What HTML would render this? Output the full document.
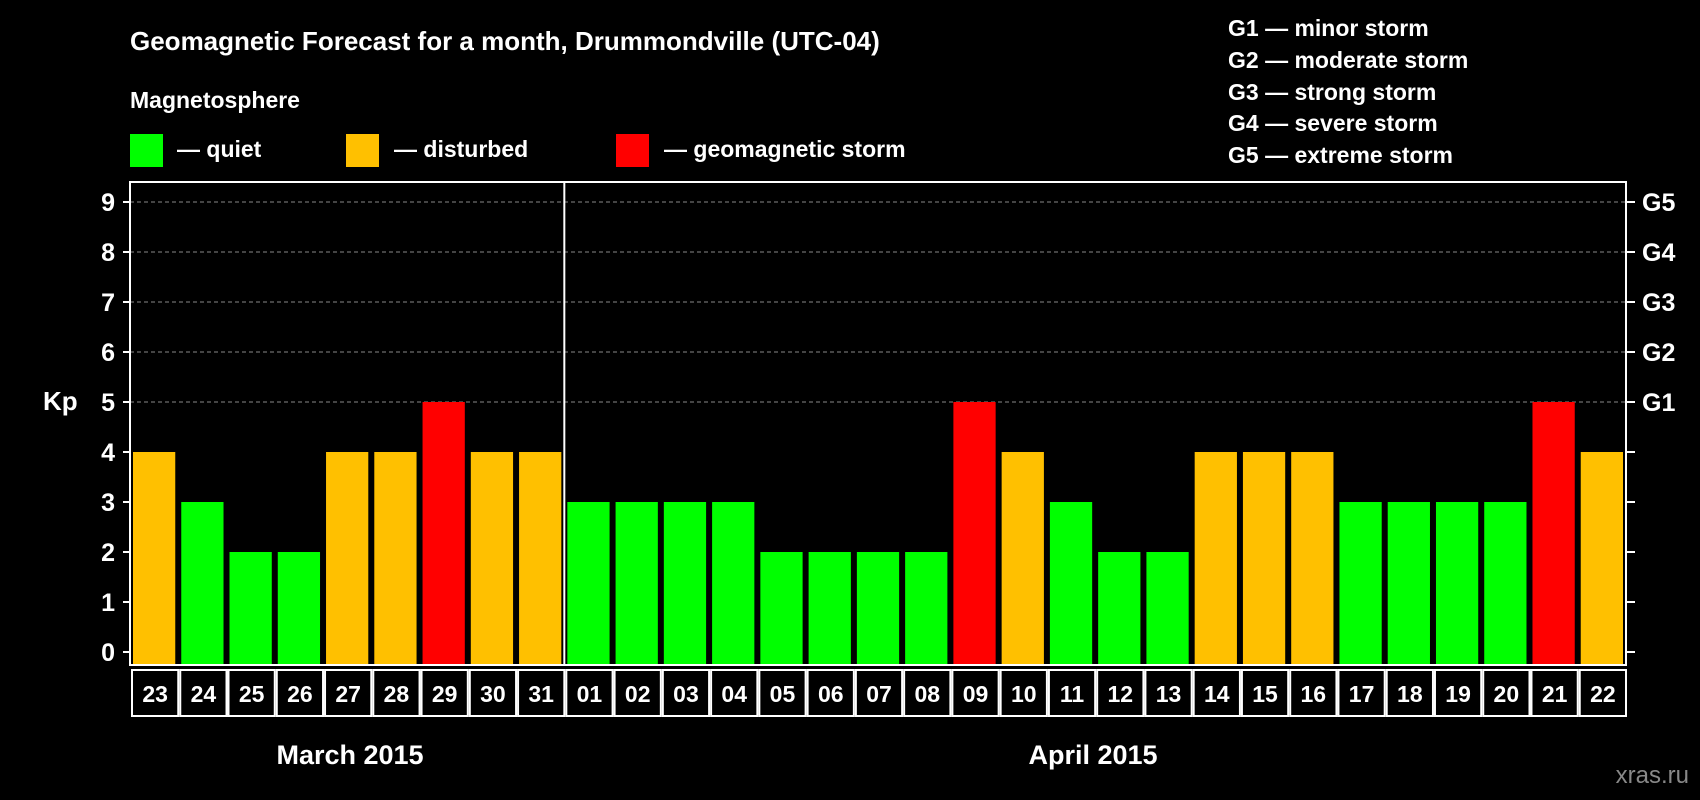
<!DOCTYPE html>
<html><head><meta charset="utf-8">
<style>
html,body{margin:0;padding:0;background:#000;}
svg{display:block;font-family:"Liberation Sans",Arial,sans-serif;font-weight:bold;}
</style></head>
<body>
<svg id="chart" width="1700" height="800" viewBox="0 0 1700 800">
<rect width="1700" height="800" fill="#000"/>
<text x="130" y="50" fill="#fff" font-size="26">Geomagnetic Forecast for a month, Drummondville (UTC-04)</text>
<text x="130" y="108" fill="#fff" font-size="23">Magnetosphere</text>
<g>
<rect x="130" y="134" width="33" height="33" fill="#00ff00"/>
<text x="177" y="157" fill="#fff" font-size="23">— quiet</text></g>
<g>
<rect x="346" y="134" width="33" height="33" fill="#ffc000"/>
<text x="394" y="157" fill="#fff" font-size="23">— disturbed</text></g>
<g>
<rect x="616" y="134" width="33" height="33" fill="#ff0000"/>
<text x="664" y="157" fill="#fff" font-size="23">— geomagnetic storm</text></g>
<g font-size="23" fill="#fff">
<text x="1228" y="36">G1 — minor storm</text>
<text x="1228" y="68">G2 — moderate storm</text>
<text x="1228" y="100">G3 — strong storm</text>
<text x="1228" y="131">G4 — severe storm</text>
<text x="1228" y="163">G5 — extreme storm</text>
</g>
<text x="43" y="410" fill="#fff" font-size="26">Kp</text>
<text x="350" y="764" fill="#fff" font-size="27" text-anchor="middle">March 2015</text>
<text x="1093" y="764" fill="#fff" font-size="27" text-anchor="middle">April 2015</text>
<text x="1689" y="783" fill="#888" font-size="24" text-anchor="end" font-weight="normal">xras.ru</text>
<g id="plot"></g>
</svg>
<script>
const days = ["23","24","25","26","27","28","29","30","31","01","02","03","04","05","06","07","08","09","10","11","12","13","14","15","16","17","18","19","20","21","22"];
const kpValues = [4,3,2,2,4,4,5,4,4,3,3,3,3,2,2,2,2,5,4,3,2,2,4,4,4,3,3,3,3,5,4];
const yTicks = [0,1,2,3,4,5,6,7,8,9];
const gLabels = ["G1","G2","G3","G4","G5"];
const gLevels = [5,6,7,8,9];

const NS = "http://www.w3.org/2000/svg";
const plot = document.getElementById("plot");
const L = 130, R = 1626, T = 182, B = 665;
const y0 = 652, unit = 50;
const yScale = v => y0 - v * unit;
const step = (R - L) / days.length;
const xScale = i => L + i * step;
function mk(tag, attrs){ const e = document.createElementNS(NS, tag); for (const k in attrs) e.setAttribute(k, attrs[k]); plot.appendChild(e); return e; }
function color(v){ return v >= 5 ? "#ff0000" : (v >= 4 ? "#ffc000" : "#00ff00"); }

// grid lines
gLevels.forEach((v, i) => {
  const g = mk("line", {x1: L, x2: R, y1: yScale(v), y2: yScale(v), stroke: "#888", "stroke-dasharray": "4,3", "stroke-width": 1});
  
  
});
// bars
kpValues.forEach((v, i) => {
  const r = mk("rect", {x: xScale(i) + 3, y: yScale(v), width: step - 6, height: B - yScale(v), fill: color(v)});
  
  
});
// frame
const fr = mk("rect", {x: L, y: T, width: R - L, height: B - T, fill: "none", stroke: "#fff", "stroke-width": 2});


// month separator
const sep = mk("line", {x1: xScale(9), x2: xScale(9), y1: T, y2: B, stroke: "#fff", "stroke-width": 2});


// y ticks
yTicks.forEach(v => {
  const t = mk("line", {x1: L - 7, x2: L, y1: yScale(v), y2: yScale(v), stroke: "#fff", "stroke-width": 2});
  
  
  const lb = mk("text", {x: 115, y: yScale(v) + 9, fill: "#fff", "font-size": 25, "text-anchor": "end"});
  lb.textContent = v;
  
  
  const rt = mk("line", {x1: R, x2: R + 9, y1: yScale(v), y2: yScale(v), stroke: "#fff", "stroke-width": 2});
  
  
});
gLevels.forEach((v, i) => {
  const lb = mk("text", {x: 1642, y: yScale(v) + 9, fill: "#fff", "font-size": 25});
  lb.textContent = gLabels[i];
  
  
});
// date boxes
days.forEach((d, i) => {
  const bx = mk("rect", {x: xScale(i) + 2, y: 670, width: step - 2, height: 46, fill: "#000", stroke: "#fff", "stroke-width": 2});
  
  
  const t = mk("text", {x: xScale(i) + step / 2 + 1, y: 702, fill: "#fff", "font-size": 23, "text-anchor": "middle"});
  t.textContent = d;
  
  
});
</script>
</body></html>
